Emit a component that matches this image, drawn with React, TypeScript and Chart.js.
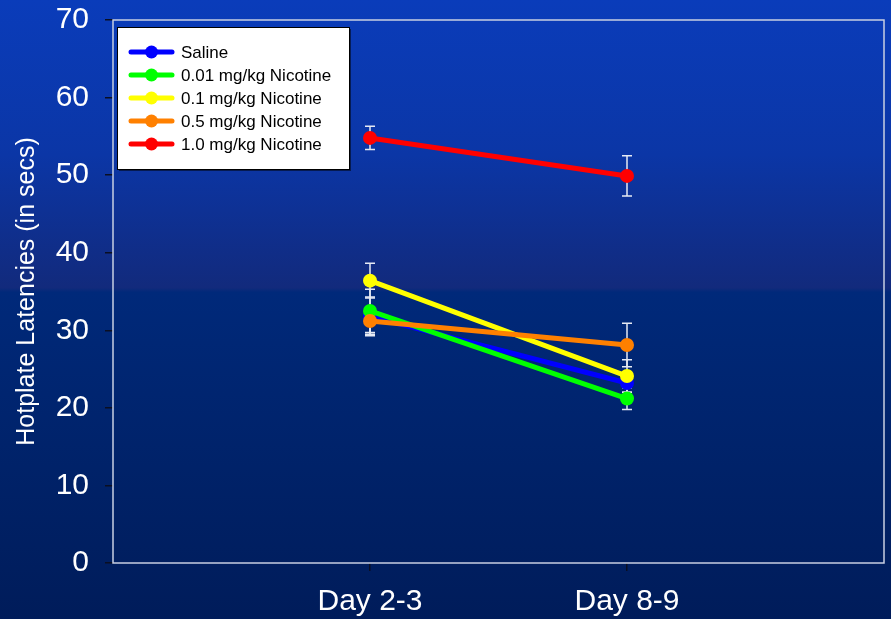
import React, { useEffect, useRef } from "react";
import { Chart, registerables } from "chart.js";

Chart.register(...registerables);

const categories = ["Day 2-3", "Day 8-9"];
const seriesNames = ["Saline", "0.01 mg/kg Nicotine", "0.1 mg/kg Nicotine", "0.5 mg/kg Nicotine", "1.0 mg/kg Nicotine"];
const seriesColors = ["#0000ff", "#00ff00", "#ffff00", "#ff8000", "#ff0000"];
const saline = [31.8, 23.2];
const nic001 = [32.5, 21.2];
const nic01 = [36.4, 24.1];
const nic05 = [31.2, 28.1];
const nic10 = [54.8, 49.9];
const salineErr = [2.5, 1.2];
const nic001Err = [2.8, 1.4];
const nic01Err = [2.25, 2.1];
const nic05Err = [1.7, 2.8];
const nic10Err = [1.5, 2.6];
const yTicks = [0, 10, 20, 30, 40, 50, 60, 70];
const yTitle = "Hotplate Latencies (in secs)";

const seriesValues = [saline, nic001, nic01, nic05, nic10];
const seriesErrors = [salineErr, nic001Err, nic01Err, nic05Err, nic10Err];

const FONT = "Arial, 'Liberation Sans', sans-serif";

const bgPlugin = {
  id: "bg",
  beforeDraw(chart: any) {
    const { ctx, width, height } = chart;
    const g = ctx.createLinearGradient(0, 0, 0, height);
    g.addColorStop(0, "#0a3cba");
    g.addColorStop(0.25, "#0b36a6");
    g.addColorStop(0.465, "#122a7c");
    g.addColorStop(0.472, "#00297a");
    g.addColorStop(1, "#001c5a");
    ctx.save();
    ctx.fillStyle = g;
    ctx.fillRect(0, 0, width, height);
    ctx.restore();
  },
};

const frameAndErrPlugin = {
  id: "frameErr",
  beforeDatasetsDraw(chart: any) {
    const { ctx, chartArea } = chart;
    const xs = chart.scales.x;
    const ys = chart.scales.y;
    ctx.save();
    ctx.strokeStyle = "#c8cfe2";
    ctx.lineWidth = 1.5;
    ctx.strokeRect(chartArea.left, chartArea.top, chartArea.right - chartArea.left, chartArea.bottom - chartArea.top);
    ctx.strokeStyle = "#e6eaf4";
    ctx.lineWidth = 1.5;
    seriesValues.forEach((vals, si) => {
      vals.forEach((v, i) => {
        const e = seriesErrors[si][i];
        const x = xs.getPixelForValue(i + 1);
        const y1 = ys.getPixelForValue(v + e);
        const y2 = ys.getPixelForValue(v - e);
        ctx.beginPath();
        ctx.moveTo(x, y1);
        ctx.lineTo(x, y2);
        ctx.moveTo(x - 5, y1);
        ctx.lineTo(x + 5, y1);
        ctx.moveTo(x - 5, y2);
        ctx.lineTo(x + 5, y2);
        ctx.stroke();
      });
    });
    ctx.restore();
  },
};

const legendPlugin = {
  id: "boxLegend",
  afterDatasetsDraw(chart: any) {
    const { ctx } = chart;
    const left = 117, top = 27, w = 232, h = 142;
    ctx.save();
    ctx.fillStyle = "rgba(0,0,0,0.5)";
    ctx.fillRect(left + 2, top + 2, w, h);
    ctx.fillStyle = "#ffffff";
    ctx.fillRect(left, top, w, h);
    ctx.strokeStyle = "#000000";
    ctx.lineWidth = 1;
    ctx.strokeRect(left + 0.5, top + 0.5, w, h);
    ctx.font = `17px ${FONT}`;
    ctx.textBaseline = "middle";
    ctx.textAlign = "left";
    chart.data.datasets.forEach((ds: any, i: number) => {
      const y = top + 25 + i * 23;
      ctx.strokeStyle = ds.borderColor;
      ctx.lineWidth = 5;
      ctx.lineCap = "round";
      ctx.beginPath();
      ctx.moveTo(131, y);
      ctx.lineTo(172, y);
      ctx.stroke();
      ctx.fillStyle = ds.borderColor;
      ctx.beginPath();
      ctx.arc(151.5, y, 6.5, 0, Math.PI * 2);
      ctx.fill();
      ctx.fillStyle = "#000000";
      ctx.fillText(ds.label, 181, y + 1);
    });
    ctx.restore();
  },
};

export default function App() {
  const ref = useRef<HTMLCanvasElement>(null);
  useEffect(() => {
    document.body.style.margin = "0";
    const datasets = seriesNames.map((name, si) => ({
      label: name,
      data: seriesValues[si].map((v, i) => ({ x: i + 1, y: v })),
      borderColor: seriesColors[si],
      backgroundColor: seriesColors[si],
      pointBackgroundColor: seriesColors[si],
      pointBorderColor: seriesColors[si],
      borderWidth: 5,
      pointRadius: 7,
      pointBorderWidth: 0,
      order: seriesNames.length - si,
      tension: 0,
    }));
    const chart = new Chart(ref.current as HTMLCanvasElement, {
      type: "line",
      data: { datasets },
      options: {
        animation: false,
        responsive: false,
        maintainAspectRatio: false,
        layout: { padding: { top: 20, right: 7, left: 0, bottom: 0 } },
        plugins: { legend: { display: false }, tooltip: { enabled: false } },
        scales: {
          x: {
            type: "linear",
            min: 0,
            max: categories.length + 1,
            afterBuildTicks: (s: any) => {
              s.ticks = categories.map((_, i) => ({ value: i + 1 }));
            },
            afterFit: (s: any) => {
              s.height = 56;
              s.paddingLeft = 0;
              s.paddingRight = 0;
            },
            ticks: {
              callback: (v: any) => categories[Number(v) - 1] ?? "",
              color: "#ffffff",
              font: { family: FONT, size: 30 },
              padding: 13,
              maxRotation: 0,
              autoSkip: false,
            },
            grid: { drawOnChartArea: false, drawTicks: true, tickLength: 8, color: "#0a0f22", lineWidth: 1.5 },
            border: { display: false },
          },
          y: {
            min: 0,
            max: 70,
            afterBuildTicks: (s: any) => {
              s.ticks = yTicks.map((v) => ({ value: v }));
            },
            afterFit: (s: any) => {
              s.width = 113;
              s.paddingTop = 0;
              s.paddingBottom = 0;
            },
            ticks: {
              color: "#ffffff",
              font: { family: FONT, size: 30 },
              padding: 16,
            },
            grid: { drawOnChartArea: false, drawTicks: true, tickLength: 8, color: "#0a0f22", lineWidth: 1.5 },
            border: { display: false },
            title: {
              display: true,
              text: yTitle,
              color: "#ffffff",
              font: { family: FONT, size: 25 },
              padding: { top: 12, bottom: 0 },
            },
          },
        },
      },
      plugins: [bgPlugin, frameAndErrPlugin, legendPlugin],
    } as any);
    return () => chart.destroy();
  }, []);
  return <canvas ref={ref} width={891} height={619} style={{ display: "block" }} />;
}
